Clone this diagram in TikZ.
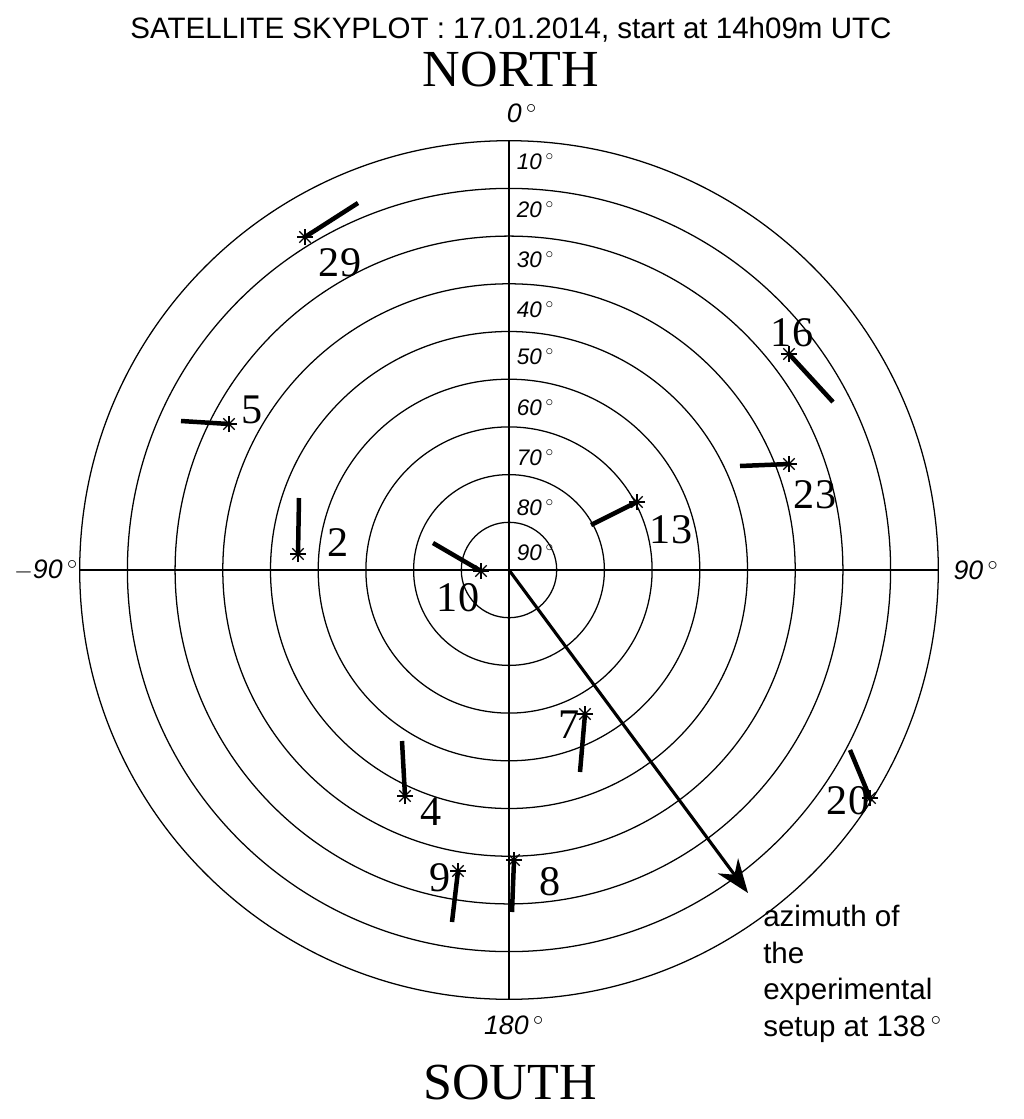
\documentclass[tikz,border=0pt]{standalone}
\usepackage{fontspec}
\setsansfont{Liberation Sans}
\setmainfont{Liberation Serif}
\usetikzlibrary{arrows.meta}
\newcommand{\dg}{\,$^{\circ}$}
\tikzset{
  grid/.style={line width=0.9pt},
  track/.style={line width=3.2pt},
  satlabel/.style={font=\fontsize{30}{30}\selectfont},
  elevlabel/.style={font=\sffamily\itshape\fontsize{16}{16}\selectfont},
  axlabel/.style={font=\sffamily\itshape\fontsize{19}{19}\selectfont}
}
\begin{document}
\begin{tikzpicture}[x=0.025cm,y=-0.025cm]
\useasboundingbox (0,0) rectangle (1024,1119);
\coordinate (c) at (509,570);

% elevation circles
\foreach \e in {0,10,...,80} {
\pgfmathsetmacro\r{(90-\e)*4.77*0.025}
\draw[grid] (c) circle (\r cm);
}
\draw[grid] (509,141) -- (509,999);
\draw[grid] (80,570) -- (938,570);

\foreach \e/\y in {10/162,20/210,30/260,40/310,50/357,60/408,70/458,80/508,90/553} {
\node[elevlabel,anchor=west] at (512,\y) {\e\dg};
}
\node[axlabel] (north0) at (522,113) {0\dg};
\node[axlabel] (south180) at (514,1025) {180\dg};
\node[axlabel] (west90) at (46,570) {$-$90\dg};
\node[axlabel] (east90) at (976,570) {90\dg};

\node[font=\sffamily\fontsize{21}{21}\selectfont] (title) at (511,30) {SATELLITE SKYPLOT : 17.01.2014, start at 14h09m UTC};
\node[font=\fontsize{37}{37}\selectfont] (north) at (511,70) {NORTH};
\node[font=\fontsize{37}{37}\selectfont] (south) at (510,1083) {SOUTH};

% satellite tracks
\foreach \n/\sx/\sy/\ex/\ey/\lx/\ly in {
29/305/237/358/203/340/263, 16/789/354/833/402/792/333,
5/229/424/181/421/252/410, 23/789/464/740/466/815/495,
2/298/554/299/498/338/543, 13/637/502/591/525/671/530,
10/481/571/433/543/458/598, 7/585/714/580/772/569/725,
20/870/798/850/750/848/801, 4/405/796/402/741/431/812,
9/458/871/452/922/440/878, 8/514/860/512/912/550/882} {
\coordinate (s\n) at (\sx,\sy);
\coordinate (e\n) at (\ex,\ey);
\draw[track] (s\n) -- (e\n);
\foreach \a in {0,45,90,135}
  \draw[line width=0.9pt] (s\n) ++(\a:8) -- ++(\a+180:16);
\node[satlabel] (l\n) at (\lx,\ly) {\n};
}

% azimuth arrow
\coordinate (az) at (748,893);
\draw[line width=2.2pt,-{Stealth[length=24pt,width=18pt]}] (c) -- (az);
\node[anchor=north west,align=left,inner sep=0pt,font=\sffamily\fontsize{21}{26}\selectfont] (aztext) at (763,905)
  {azimuth of\\the\\experimental\\setup at 138\dg};
\end{tikzpicture}
\end{document}
